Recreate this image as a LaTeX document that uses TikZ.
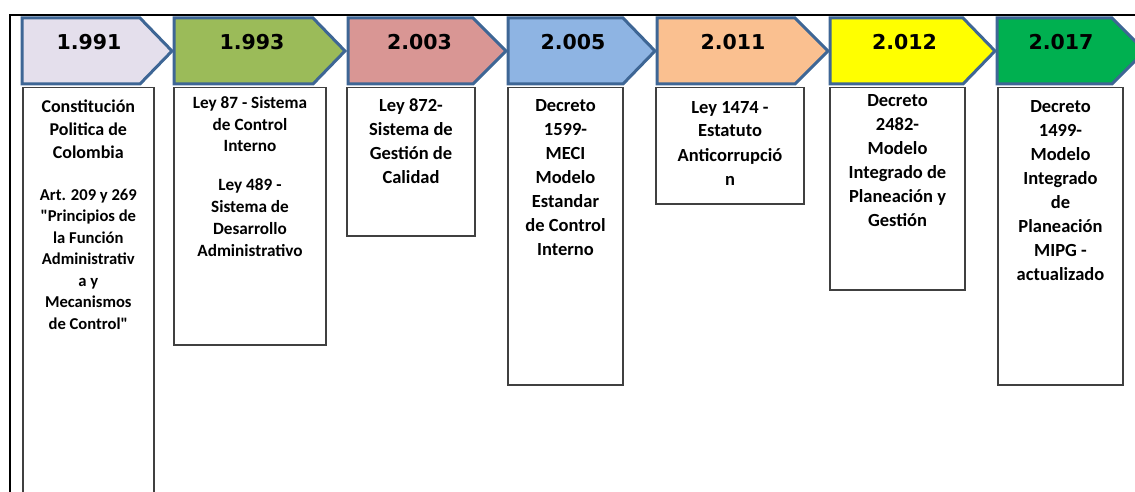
\documentclass[tikz,border=0pt]{standalone}
\usepackage{fontspec}
\setmainfont{Carlito}
\newfontfamily\yearfont{DejaVu Sans}
\usepackage{xcolor}
\usepackage{tikz}
\usetikzlibrary{positioning}
\definecolor{edgeblue}{HTML}{3E6695}
\definecolor{lila}{HTML}{E4DFEC}
\definecolor{olive}{HTML}{9BBB59}
\definecolor{rosa}{HTML}{D99694}
\definecolor{celeste}{HTML}{8EB4E3}
\definecolor{durazno}{HTML}{FAC090}
\definecolor{amarillo}{HTML}{FFFF00}
\definecolor{verde}{HTML}{00B050}
\def\chevron[#1](#2:#3:#4){\filldraw[#1,draw=edgeblue,line width=3pt,line join=miter] (#2,18)--(#3,18)--(#4,51)--(#3,84)--(#2,84)--cycle}

\begin{document}
\begin{tikzpicture}[x=1pt,y=-1pt,
    year/.style={font=\yearfont\bfseries\fontsize{20.5}{24}\selectfont,anchor=base,inner sep=0pt},
    lawbox/.style={draw=black!75,line width=1.5pt,anchor=north,inner sep=0pt},
    lawtext/.style={font=\bfseries\fontsize{18.5}{24}\selectfont,align=center,anchor=base,inner sep=0pt}]
        \clip (0,0) rectangle (1135,492);
        \draw[line width=1.3pt] (10,500)--(10,15)--(1140,15);

        % flechas de los anos
        \chevron[lila](22:140:172);
        \chevron[olive](174:313:345);
        \chevron[rosa](348:473:506);
        \chevron[celeste](508:623:655);
        \chevron[durazno](657:795:828);
        \chevron[amarillo](830:963:995);
        \chevron[verde](997:1112:1145);

        \node[year] (y1991) at (89,50) {1.991};
        \node[year] (y1993) at (252,50) {1.993};
        \node[year] (y2003) at (419.5,50) {2.003};
        \node[year] (y2005) at (573,50) {2.005};
        \node[year] (y2011) at (733,50) {2.011};
        \node[year] (y2012) at (904.5,50) {2.012};
        \node[year] (y2017) at (1061,50) {2.017};

        % cajas de normas
        \node[lawbox,minimum width=131pt,minimum height=420pt] (b1991) at (88.3,87) {};
        \node[lawbox,minimum width=152pt,minimum height=257pt] (b1993) at (250,87) {};
        \node[lawbox,minimum width=128pt,minimum height=148pt] (b2003) at (411,87) {};
        \node[lawbox,minimum width=115pt,minimum height=297pt] (b2005) at (565.5,87) {};
        \node[lawbox,minimum width=148pt,minimum height=116pt] (b2011) at (730,87) {};
        \node[lawbox,minimum width=135pt,minimum height=202pt] (b2012) at (897.5,87) {};
        \node[lawbox,minimum width=125pt,minimum height=297pt] (b2017) at (1060.5,87) {};

        % texto: la base es la de la ultima linea
        \node[lawtext,font=\bfseries\fontsize{18}{23.3}\selectfont] (t1991) at (88.3,159) {Constitución\\Politica de\\Colombia};
        \node[lawtext,font=\bfseries\fontsize{16.6}{21.5}\selectfont] (t1991b) at (88.3,329) {Art. 209 y 269\\\textquotedbl Principios de\\la Función\\Administrativ\\a y\\Mecanismos\\de Control\textquotedbl};
        \node[lawtext,font=\bfseries\fontsize{17.2}{21.7}\selectfont] (t1993) at (250,256) {Ley 87 - Sistema\\de Control\\Interno\\[17.4pt]Ley 489 -\\Sistema de\\Desarrollo\\Administrativo};
        \node[lawtext] (t2003) at (411,183.7) {Ley 872-\\Sistema de\\Gestión de\\Calidad};
        \node[lawtext] (t2005) at (565.5,255.7) {Decreto\\1599-\\MECI\\Modelo\\Estandar\\de Control\\Interno};
        \node[lawtext] (t2011) at (730,185) {Ley 1474 -\\Estatuto\\Anticorrupció\\n};
        \node[lawtext] (t2012) at (897.5,226.7) {Decreto\\2482-\\Modelo\\Integrado de\\Planeación y\\Gestión};
        \node[lawtext] (t2017) at (1060.5,280.7) {Decreto\\1499-\\Modelo\\Integrado\\de\\Planeación\\MIPG -\\actualizado};
\end{tikzpicture}
\end{document}
